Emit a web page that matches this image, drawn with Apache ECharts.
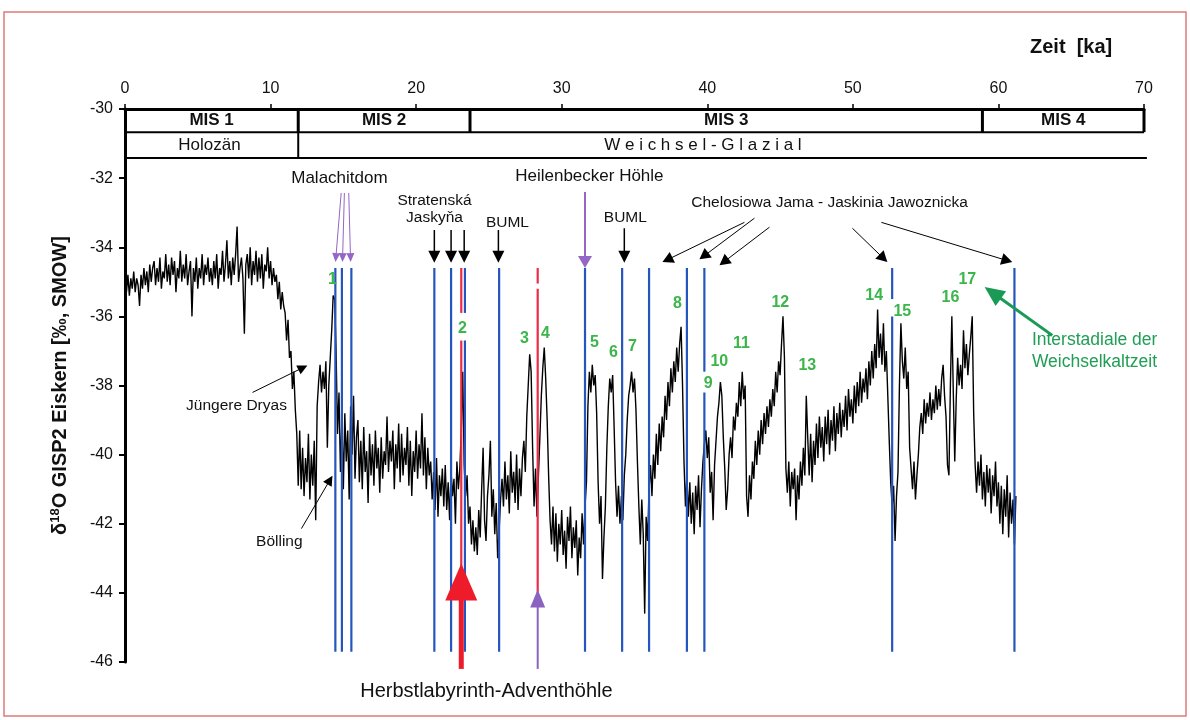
<!DOCTYPE html>
<html><head><meta charset="utf-8">
<script src="https://cdn.jsdelivr.net/npm/echarts/dist/echarts.min.js"></script>
<style>html,body{margin:0;padding:0;background:#fff}#c{width:1190px;height:720px}</style>
</head><body><div id="c"></div>
<script>
// ---------- DATA ----------
const ageStart = 0, ageStep = 0.1;
const d18O = [
 -35.0,-35.3,-34.8,-35.4,-34.9,-35.2,-34.7,-35.3,-34.9,-35.1,
 -35.7,-34.8,-35.2,-34.6,-35.1,-34.7,-35.3,-34.5,-35.0,-34.6,
 -34.4,-35.1,-34.6,-35.0,-34.3,-35.2,-34.7,-34.9,-34.2,-35.0,
 -34.5,-35.1,-34.3,-34.8,-34.4,-35.3,-34.6,-34.9,-34.1,-35.0,
 -34.5,-34.9,-34.2,-35.1,-34.7,-34.4,-36.0,-34.6,-35.0,-34.3,
 -35.2,-34.6,-34.9,-34.2,-35.1,-34.5,-34.8,-34.3,-35.0,-34.6,
 -35.1,-34.4,-34.9,-34.2,-35.2,-34.6,-34.8,-34.1,-35.0,-34.5,
 -33.8,-34.9,-34.4,-35.1,-34.3,-34.8,-34.2,-33.4,-35.0,-34.6,
 -34.3,-34.9,-36.5,-34.5,-34.2,-34.9,-34.0,-35.1,-34.4,-34.8,
 -34.1,-35.0,-34.3,-34.9,-34.2,-35.2,-34.5,-34.7,-34.0,-34.9,
 -34.4,-35.1,-34.6,-35.0,-34.8,-35.5,-35.0,-35.8,-35.3,-35.7,
 -35.9,-36.7,-36.1,-37.2,-37.0,-38.1,-37.6,-38.7,-39.4,-40.9,
 -39.3,-41.0,-39.8,-41.2,-40.1,-40.8,-39.4,-41.3,-40.0,-40.9,
 -39.6,-41.9,-38.6,-37.9,-37.4,-38.2,-37.6,-38.1,-37.3,-39.8,
 -38.0,-37.2,-36.4,-35.4,-35.5,-37.0,-39.4,-38.2,-40.5,-39.0,
 -41.0,-38.8,-40.2,-39.3,-41.3,-38.6,-40.0,-38.3,-40.7,-39.5,
 -39.0,-40.8,-39.6,-41.0,-39.2,-40.5,-39.9,-41.4,-39.4,-40.6,
 -39.7,-40.9,-39.3,-40.4,-39.8,-41.1,-39.5,-40.7,-39.9,-40.3,
 -38.9,-40.5,-39.6,-40.2,-39.3,-41.0,-39.7,-40.4,-39.1,-40.8,
 -39.4,-40.6,-39.8,-40.3,-39.2,-40.9,-39.6,-41.2,-39.9,-40.5,
 -39.3,-40.7,-39.7,-40.4,-38.8,-40.6,-39.5,-41.0,-39.8,-40.6,
 -40.2,-41.3,-40.5,-41.6,-40.1,-41.8,-40.6,-41.2,-40.4,-41.5,
 -40.3,-41.6,-40.8,-41.9,-40.5,-41.2,-40.7,-42.0,-40.2,-41.0,
 -40.4,-39.3,-37.6,-40.3,-41.2,-40.6,-42.0,-41.5,-42.6,-41.9,
 -42.8,-42.1,-42.9,-41.6,-42.4,-41.0,-39.8,-41.9,-42.5,-41.2,
 -40.6,-39.6,-41.8,-41.0,-42.3,-41.4,-43.0,-42.2,-41.3,-40.7,
 -41.5,-40.2,-41.3,-40.6,-41.7,-39.9,-41.1,-40.5,-41.4,-40.0,
 -41.6,-40.4,-41.2,-40.1,-39.6,-40.5,-38.9,-38.0,-37.1,-37.6,
 -39.8,-41.5,-40.4,-41.8,-40.6,-39.5,-38.3,-37.5,-36.9,-37.8,
 -39.0,-40.6,-41.9,-42.6,-41.5,-42.8,-41.7,-43.1,-42.0,-42.6,
 -41.6,-42.9,-42.2,-43.3,-41.8,-42.5,-41.5,-43.0,-42.1,-42.7,
 -41.9,-43.5,-42.4,-43.0,-41.7,-42.6,-41.5,-40.8,-38.6,-37.6,
 -38.2,-37.4,-38.0,-37.7,-38.8,-40.8,-42.0,-41.2,-43.6,-42.4,
 -41.5,-39.8,-38.6,-37.8,-38.2,-37.7,-39.2,-40.8,-41.8,-40.9,
 -42.0,-41.2,-41.9,-40.6,-40.0,-39.0,-38.3,-38.0,-37.6,-38.2,
 -37.8,-38.7,-40.2,-41.5,-42.6,-41.3,-42.3,-44.6,-41.8,-42.5,
 -41.0,-40.3,-41.2,-40.0,-40.7,-39.4,-40.3,-39.1,-39.9,-38.9,
 -39.5,-38.3,-39.0,-37.9,-38.6,-37.5,-38.2,-37.3,-37.9,-36.9,
 -37.6,-36.8,-36.3,-38.0,-40.2,-41.5,-40.6,-41.8,-40.8,-42.0,
 -41.1,-42.3,-40.9,-41.6,-40.6,-42.1,-41.0,-40.2,-39.7,-39.3,
 -40.1,-39.5,-41.1,-40.5,-41.9,-40.3,-39.6,-38.9,-38.5,-37.9,
 -38.3,-39.5,-40.4,-41.6,-41.0,-40.0,-39.5,-40.1,-38.9,-39.3,
 -38.5,-38.9,-37.9,-38.6,-37.6,-38.4,-38.0,-41.2,-41.8,-40.6,
 -41.3,-40.2,-40.7,-39.6,-40.3,-39.3,-40.0,-39.0,-39.7,-38.8,
 -39.4,-38.6,-39.2,-38.4,-38.9,-38.1,-38.6,-37.6,-38.2,-37.3,
 -37.7,-36.8,-36.0,-37.2,-40.4,-41.1,-40.2,-41.5,-40.5,-41.0,
 -40.4,-41.9,-40.6,-41.3,-40.2,-40.9,-39.8,-40.6,-38.3,-39.5,
 -40.6,-39.4,-40.8,-39.6,-40.3,-39.1,-40.1,-38.9,-39.8,-39.2,
 -40.2,-38.9,-39.7,-38.7,-40.0,-39.0,-39.6,-38.6,-39.9,-38.8,
 -39.4,-38.5,-39.5,-38.7,-39.2,-38.3,-39.3,-38.1,-38.9,-38.4,
 -39.1,-38.0,-38.8,-37.9,-38.6,-37.6,-38.5,-37.8,-38.2,-37.5,
 -38.4,-37.3,-38.0,-37.0,-37.8,-36.8,-37.5,-35.8,-37.2,-36.5,
 -37.4,-36.2,-37.6,-37.0,-38.3,-39.6,-40.8,-41.5,-40.9,-42.5,
 -41.2,-40.5,-38.0,-36.2,-37.3,-37.8,-36.9,-38.1,-37.6,-39.8,
 -40.4,-41.0,-40.2,-41.3,-40.6,-40.0,-39.2,-38.8,-39.4,-38.4,
 -39.1,-38.5,-38.9,-38.2,-39.0,-38.4,-38.8,-38.0,-38.7,-38.1,
 -38.6,-37.8,-37.4,-38.3,-38.9,-40.3,-40.6,-38.0,-36.0,-38.2,
 -40.2,-38.4,-37.2,-38.0,-37.4,-38.1,-36.4,-37.5,-36.8,-37.7,
 -37.1,-36.6,-36.0,-38.8,-40.3,-41.1,-40.2,-40.9,-40.0,-41.3,
 -40.5,-41.5,-40.3,-41.1,-40.4,-41.7,-40.6,-41.2,-40.2,-41.5,
 -40.8,-42.0,-40.9,-42.3,-41.0,-41.8,-40.6,-42.4,-41.1,-42.0,
 -41.3,-42.6,-41.2
];

// Axis ranges / ticks
const xRange = [0, 70], xTickStep = 10;
const yRange = [-46, -30], yTickStep = 2;

// Stage boxes: [label, startAge, endAge]
const misStages = [['MIS 1', 0, 11.9], ['MIS 2', 11.9, 23.7], ['MIS 3', 23.7, 58.9], ['MIS 4', 58.9, 70]];
const misRow = [-30, -30.67];
// [label, startAge, endAge, labelAge]
const epochs = [['Holozän', 0, 11.9, 5.8], ['W e i c h s e l - G l a z i a l', 11.9, 70.2, 39.7]];
const epochRow = [-30.67, -31.42];

// Vertical marker lines [age, top, bottom]
const blueLines = [
 [14.45,-34.6,-45.7],[14.9,-34.6,-45.7],[15.55,-34.6,-45.7],[21.25,-34.6,-45.7],[22.4,-34.6,-45.7],
 [23.35,-34.6,-35.9],[23.35,-36.7,-45.7],[25.7,-34.6,-45.7],[31.6,-34.6,-45.7],[34.15,-34.6,-45.7],
 [36.0,-34.6,-45.7],[38.6,-34.6,-45.7],[39.8,-34.6,-37.6],[39.8,-38.2,-45.7],
 [52.7,-34.6,-35.5],[52.7,-36.0,-45.7],[61.1,-34.6,-45.7]
];
const redLines = [[23.1,-34.6,-35.9],[23.1,-36.7,-43.5],[28.35,-34.6,-35.05],[28.35,-35.2,-44.0]];

// Arrows [fromAge, fromVal, toAge, toVal]
const malachitArrows = [[14.85,-32.43,14.46,-34.43],[15.07,-32.43,14.94,-34.43],[15.37,-32.43,15.5,-34.43]];
const heilenbeckerArrow = [[31.6,-32.4,31.6,-34.6]];
const caveArrows = [[21.25,-33.5,21.25,-34.45],[22.4,-33.5,22.4,-34.45],[23.3,-33.5,23.3,-34.45],
                    [25.65,-33.5,25.65,-34.45],[34.3,-33.45,34.3,-34.45]];
const chelosiowaArrows = [[42.55,-33.28,36.92,-34.43],[43.24,-33.16,39.46,-34.35],[44.27,-33.42,40.84,-34.52],
                          [49.97,-33.45,52.37,-34.43],[51.96,-33.28,60.95,-34.43]];
const eventArrows = [[8.76,-38.2,12.53,-37.42],[12.12,-42.14,14.25,-40.61]];
const interstadialArrow = [[63.7,-36.55,59.05,-35.15]];
const herbstArrow = [[23.1,-46.2,23.1,-43.15]];
const adventArrow = [[28.35,-46.2,28.35,-43.9]];

// Labels [age, value, text]
const siteLabels = [
 [14.73,-32.0,'Malachitdom'],[31.9,-31.94,'Heilenbecker Höhle']
];
const smallLabels = [
 [21.26,-32.64,'Stratenská'],[21.26,-33.16,'Jaskyňa'],[26.27,-33.28,'BUML'],[34.37,-33.16,'BUML'],
 [48.4,-32.72,'Chelosiowa Jama - Jaskinia Jawoznicka'],[7.66,-38.58,'Jüngere Dryas'],[10.6,-42.52,'Bölling']
];
const interstadialNumbers = [
 [14.25,-34.93,'1'],[23.18,-36.35,'2'],[27.44,-36.64,'3'],[28.88,-36.49,'4'],[32.25,-36.75,'5'],
 [33.55,-37.04,'6'],[34.86,-36.87,'7'],[37.95,-35.62,'8'],[40.07,-37.94,'9'],[40.83,-37.3,'10'],
 [42.34,-36.78,'11'],[45.02,-35.59,'12'],[46.87,-37.42,'13'],[51.47,-35.39,'14'],[53.4,-35.86,'15'],
 [56.7,-35.45,'16'],[57.86,-34.93,'17']
];
const interstadialText = [[62.3,-36.7,'Interstadiale der'],[62.3,-37.33,'Weichselkaltzeit']];
const bottomLabel = [[24.83,-46.84,'Herbstlabyrinth-Adventhöhle']];

// ---------- CHART ----------
const FONT = '"Liberation Sans", Arial, sans-serif';
const chart = echarts.init(document.getElementById('c'), null, {renderer: 'canvas'});

function segSeries(segs, color, width, z) {
  return {
    type: 'custom', coordinateSystem: 'cartesian2d', silent: true, clip: false, z: z || 4,
    data: segs.map(s => [s[0], s[1]]),
    renderItem: (params, api) => {
      const s = segs[params.dataIndex];
      const p1 = api.coord([s[0], s[1]]), p2 = api.coord([s[2], s[3]]);
      return {type: 'line', shape: {x1: p1[0], y1: p1[1], x2: p2[0], y2: p2[1]},
              style: {stroke: color, lineWidth: width, lineCap: 'butt'}};
    }
  };
}
function vSeries(lines, color, width, z) {
  return segSeries(lines.map(l => [l[0], l[1], l[0], l[2]]), color, width, z);
}
function arrowSeries(arrs, color, width, headLen, headW, z) {
  return {
    type: 'custom', coordinateSystem: 'cartesian2d', silent: true, clip: false, z: z || 5,
    data: arrs.map(s => [s[0], s[1]]),
    renderItem: (params, api) => {
      const s = arrs[params.dataIndex];
      const p1 = api.coord([s[0], s[1]]), p2 = api.coord([s[2], s[3]]);
      const dx = p2[0] - p1[0], dy = p2[1] - p1[1], L = Math.hypot(dx, dy);
      const ux = dx / L, uy = dy / L, nx = -uy, ny = ux;
      const bx = p2[0] - ux * headLen, by = p2[1] - uy * headLen;
      return {type: 'group', children: [
        {type: 'line', shape: {x1: p1[0], y1: p1[1], x2: bx + ux, y2: by + uy},
         style: {stroke: color, lineWidth: width}},
        {type: 'polygon', shape: {points: [[p2[0], p2[1]], [bx + nx * headW / 2, by + ny * headW / 2], [bx - nx * headW / 2, by - ny * headW / 2]]},
         style: {fill: color}}
      ]};
    }
  };
}
function textSeries(items, size, weight, color, align, z) {
  return {
    type: 'custom', coordinateSystem: 'cartesian2d', silent: true, clip: false, z: z || 6,
    data: items.map(s => [s[0], s[1]]),
    renderItem: (params, api) => {
      const s = items[params.dataIndex];
      const p = api.coord([s[0], s[1]]);
      return {type: 'text', x: p[0], y: p[1],
              style: {text: s[2], fill: color, font: weight + ' ' + size + 'px ' + FONT,
                      align: align || 'center', verticalAlign: 'middle',
                      textAlign: align || 'center', textVerticalAlign: 'middle'}};
    }
  };
}

// Stage box geometry from stage arrays
const misDividers = misStages.slice(1).map(m => [m[1], misRow[0], m[1], misRow[1]])
  .concat([[misStages[misStages.length - 1][2], misRow[0], misStages[misStages.length - 1][2], misRow[1]]]);
const misBottom = [[misStages[0][1], misRow[1], misStages[misStages.length - 1][2], misRow[1]]];
const epochDividers = epochs.slice(1).map(e => [e[1], epochRow[0], e[1], epochRow[1]]);
const epochBottom = [[epochs[0][1], epochRow[1], epochs[epochs.length - 1][2], epochRow[1]]];
const misLabels = misStages.map(m => [(m[1] + m[2]) / 2, (misRow[0] + misRow[1]) / 2, m[0]]);
const epochLabels = epochs.map(e => [e[3], (epochRow[0] + epochRow[1]) / 2 - 0.02, e[0]]);

const option = {
  animation: false,
  backgroundColor: '#fff',
  grid: {left: 125, right: 46, top: 109, bottom: 58, containLabel: false},
  xAxis: {
    type: 'value', position: 'top', min: xRange[0], max: xRange[1], interval: xTickStep,
    axisLine: {lineStyle: {color: '#000', width: 3}},
    axisTick: {show: true, length: 5, lineStyle: {color: '#000', width: 1.5}},
    axisLabel: {color: '#111', fontSize: 16, fontFamily: FONT, margin: 12},
    splitLine: {show: false}
  },
  yAxis: {
    type: 'value', min: yRange[0], max: yRange[1], interval: yTickStep,
    axisLine: {show: true, lineStyle: {color: '#000', width: 3}},
    axisTick: {show: true, length: 6, lineStyle: {color: '#000', width: 2}},
    axisLabel: {color: '#111', fontSize: 16, fontFamily: FONT, margin: 12},
    splitLine: {show: false},
    name: '{b|δ}{s|18}{b|O GISP2 Eiskern [‰, SMOW]}',
    nameLocation: 'middle', nameRotate: 90, nameGap: 54,
    nameTextStyle: {rich: {
      b: {fontSize: 20, fontWeight: 'bold', fontFamily: FONT, color: '#111'},
      s: {fontSize: 13, fontWeight: 'bold', fontFamily: FONT, color: '#111', padding: [0, 0, 9, 0]}
    }}
  },
  graphic: [
    {type: 'rect', shape: {x: 4, y: 12, width: 1182, height: 704}, style: {fill: 'none', stroke: '#e07a7a', lineWidth: 1.5}, silent: true},
    {type: 'text', left: 1030, top: 37, style: {text: 'Zeit  [ka]', font: 'bold 20px ' + FONT, fill: '#111'}}
  ],
  series: [
    {
      type: 'line', name: 'GISP2', z: 2, showSymbol: false, symbol: 'none',
      data: d18O.map((v, i) => [ageStart + i * ageStep, v]),
      lineStyle: {color: '#000', width: 1.4}
    },
    vSeries(blueLines, '#2456bd', 2.2, 3),
    vSeries(redLines, '#ee2a45', 2.2, 3),
    segSeries(misDividers, '#000', 3, 4),
    segSeries(misBottom, '#000', 2, 4),
    segSeries(epochDividers, '#000', 2, 4),
    segSeries(epochBottom, '#000', 2, 4),
    textSeries(misLabels, 17, 'bold', '#111'),
    textSeries(epochLabels, 17, 'normal', '#111'),
    arrowSeries(malachitArrows, '#9466c6', 1, 9, 8),
    arrowSeries(heilenbeckerArrow, '#9466c6', 2, 12, 14),
    arrowSeries(caveArrows, '#000', 1.5, 12, 12),
    arrowSeries(chelosiowaArrows, '#000', 1, 11, 12),
    arrowSeries(eventArrows, '#000', 1, 10, 10),
    arrowSeries(interstadialArrow, '#1a9a55', 3, 20, 18),
    arrowSeries(herbstArrow, '#ee1c2a', 5, 37, 32, 7),
    arrowSeries(adventArrow, '#8a63c2', 2, 18, 15, 7),
    textSeries(siteLabels, 17, 'normal', '#111'),
    textSeries(smallLabels, 15.5, 'normal', '#111'),
    textSeries(interstadialNumbers, 16, 'bold', '#3cb54a'),
    textSeries(interstadialText, 17.5, 'normal', '#1f9e55', 'left'),
    textSeries(bottomLabel, 20, 'normal', '#111')
  ]
};
chart.setOption(option);
</script>
</body></html>
